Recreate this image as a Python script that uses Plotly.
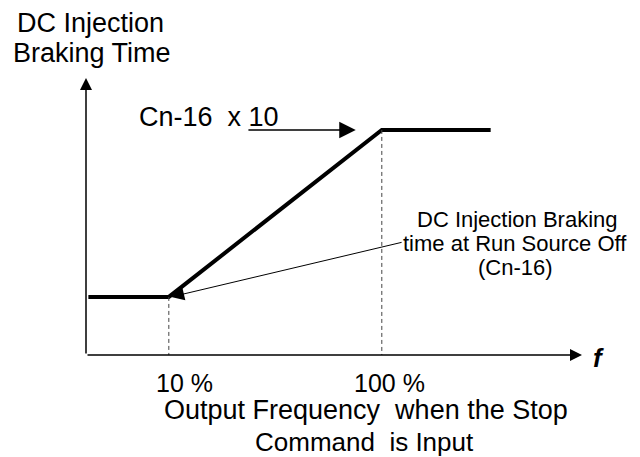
import plotly.graph_objects as go

# ---- data (schematic units: x = output frequency in %, y = braking time in units of Cn-16) ----
freq = [-24, 10, 100, 146]
brake_time = [1, 1, 10, 10]
x_ticks = [10, 100]
tick_labels = ["10 %", "100 %"]
x_range = [-25, 184.6]
y_range = [-2.13, 12.8]
cn16_arrow_x = [43, 89]          # "Cn-16 x 10" arrow span along the upper level
callout_tail = [109, 3.96]       # tail of the callout leader

# page body has an 8px margin, so the figure is drawn 8px in from the corner
OFF = 8
W, H = 640 - OFF, 457 - OFF
PL, PR, PT, PB = 86, 582, 78, 355   # plot area in page pixels
ML, MT = PL - OFF, PT - OFF
MR, MB = W - ML - (PR - PL), H - MT - (PB - PT)
FONT = "Arial, Liberation Sans, sans-serif"


def px_x(p):
    return (p - PL) / (PR - PL)


def px_y(p):
    return (PB - p) / (PB - PT)


fig = go.Figure()

# main characteristic
fig.add_trace(go.Scatter(x=freq, y=brake_time, mode="lines",
                         line=dict(color="black", width=4), hoverinfo="skip"))

# dashed drop lines
for xv, yv in zip(freq[1:3], brake_time[1:3]):
    fig.add_trace(go.Scatter(x=[xv, xv], y=[yv, y_range[0]], mode="lines",
                             line=dict(color="#444444", width=1, dash="4px,3px"),
                             hoverinfo="skip"))

ann = []
# axes with arrows
ann.append(dict(x=x_range[0], y=y_range[1], ax=x_range[0], ay=y_range[0],
                xref="x", yref="y", axref="x", ayref="y", text="", showarrow=True,
                arrowhead=2, arrowsize=1.6, arrowwidth=1.5, arrowcolor="black"))
ann.append(dict(x=x_range[1], y=y_range[0], ax=x_range[0], ay=y_range[0],
                xref="x", yref="y", axref="x", ayref="y", text="", showarrow=True,
                arrowhead=2, arrowsize=1.6, arrowwidth=1.5, arrowcolor="black"))
# Cn-16 x 10 arrow
ann.append(dict(x=cn16_arrow_x[1], y=brake_time[2], ax=cn16_arrow_x[0], ay=brake_time[2],
                xref="x", yref="y", axref="x", ayref="y", text="", showarrow=True,
                arrowhead=2, arrowsize=2.2, arrowwidth=1.5, arrowcolor="black"))
# callout leader
ann.append(dict(x=freq[1] + 1, y=brake_time[1], ax=callout_tail[0], ay=callout_tail[1],
                xref="x", yref="y", axref="x", ayref="y", text="", showarrow=True,
                arrowhead=2, arrowsize=2.6, arrowwidth=1, arrowcolor="black"))


def txt(s, cx, cy, size, anchor="center", bold=False, italic=False):
    t = s
    if bold:
        t = "<b>" + t + "</b>"
    if italic:
        t = "<i>" + t + "</i>"
    return dict(text=t, x=px_x(cx), y=px_y(cy), xref="paper", yref="paper",
                xanchor=anchor, yanchor="middle", showarrow=False, borderpad=0,
                font=dict(family=FONT, size=size, color="black"))


ann.append(txt("DC Injection", 90, 23, 27))
ann.append(txt("Braking Time", 92, 53, 27))
ann.append(txt("Cn-16  x 10", 138, 117, 27, anchor="left"))
ann.append(txt("DC Injection Braking", 517, 219, 22))
ann.append(txt("time at Run Source Off", 515, 243, 22))
ann.append(txt("(Cn-16)", 515, 267, 22))
ann.append(txt("Output Frequency  when the Stop", 366, 410, 27))
ann.append(txt("Command  is Input", 364, 442, 26))
ann.append(txt("f", 598, 358, 26, bold=True, italic=True))

# tick labels placed at the tick positions
tick_shift = [16, 8]
for xv, lab, sh in zip(x_ticks, tick_labels, tick_shift):
    ann.append(dict(text=lab, x=xv, y=px_y(383), xref="x", yref="paper",
                    xanchor="center", yanchor="middle", xshift=sh, showarrow=False,
                    borderpad=0, font=dict(family=FONT, size=25, color="black")))

fig.update_layout(
    width=W, height=H,
    margin=dict(l=ML, r=MR, t=MT, b=MB, pad=0),
    paper_bgcolor="white", plot_bgcolor="white",
    showlegend=False,
    xaxis=dict(range=x_range, visible=False, fixedrange=True),
    yaxis=dict(range=y_range, visible=False, fixedrange=True),
    annotations=ann,
)

fig.write_html("out.html")
